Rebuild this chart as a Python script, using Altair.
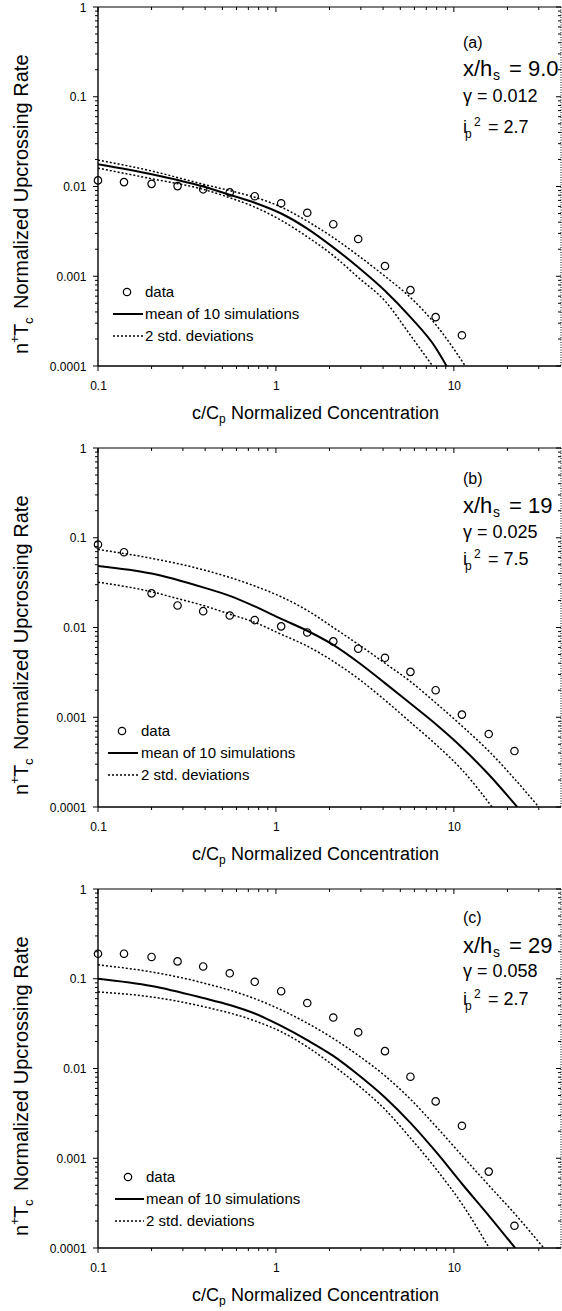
import altair as alt
import pandas as pd

FONT = "Liberation Sans"

# ---------------- axis tick values ----------------
X_MAJOR = [0.1, 1, 10]
X_MINOR = [0.2, 0.3, 0.4, 0.5, 0.6, 0.7, 0.8, 0.9, 2, 3, 4, 5, 6, 7, 8, 9, 20, 30]
Y_MAJOR = [1, 0.1, 0.01, 0.001, 0.0001]
Y_MINOR = [round(m * 10 ** k, 6) for k in (-4, -3, -2, -1) for m in range(2, 10)]
X_DOMAIN = [0.1, 40]
Y_DOMAIN = [0.0001, 1]

# ---------------- measured data (circles) ----------------
DATA_X = [0.1, 0.14, 0.2, 0.28, 0.39, 0.55, 0.76, 1.07, 1.5, 2.1, 2.9, 4.1, 5.7, 7.9, 11.1, 15.7, 21.9]
A_DATA_Y = [0.0117, 0.0112, 0.0107, 0.0101, 0.0093, 0.0086, 0.0078, 0.0065, 0.0051, 0.0038,
            0.0026, 0.0013, 0.0007, 0.00035, 0.00022]
B_DATA_Y = [0.084, 0.069, 0.024, 0.0176, 0.0152, 0.0136, 0.0121, 0.0103, 0.0088, 0.0070,
            0.0058, 0.0046, 0.0032, 0.0020, 0.00107, 0.00065, 0.00042]
C_DATA_Y = [0.19, 0.19, 0.175, 0.156, 0.137, 0.115, 0.0925, 0.0726, 0.0536, 0.037,
            0.0253, 0.0156, 0.0081, 0.0043, 0.0023, 0.00071, 0.000177]

# ---------------- simulation curves ----------------
A_MEAN_X = [0.1, 0.2, 0.39, 0.55, 0.76, 1.07, 1.5, 2.1, 2.9, 4.1, 5.7, 7.9, 9.1]
A_MEAN_Y = [0.0177, 0.0137, 0.0100, 0.0081, 0.0066, 0.0050, 0.0034, 0.0021, 0.00126, 0.00069, 0.00035, 0.00016, 0.0001]
A_UP_X = [0.1, 0.2, 0.39, 0.55, 0.76, 1.07, 1.5, 2.1, 2.9, 4.1, 5.7, 7.9, 11.6]
A_UP_Y = [0.0197, 0.0149, 0.0106, 0.0090, 0.0076, 0.0059, 0.0041, 0.0027, 0.0017, 0.0010, 0.00058, 0.00029, 0.0001]
A_LO_X = [0.1, 0.2, 0.39, 0.55, 0.76, 1.07, 1.5, 2.1, 2.9, 4.1, 5.7, 7.6]
A_LO_Y = [0.0160, 0.0122, 0.0093, 0.0075, 0.0059, 0.0042, 0.00275, 0.0017, 0.00097, 0.00053, 0.00022, 0.0001]

B_MEAN_X = [0.1, 0.2, 0.39, 0.55, 0.76, 1.07, 1.5, 2.1, 2.9, 4.1, 5.7, 7.9, 11.1, 15.7, 22.7]
B_MEAN_Y = [0.0486, 0.040, 0.028, 0.0225, 0.0172, 0.0125, 0.0092, 0.0064, 0.0041, 0.0024, 0.00142, 0.00084, 0.00046, 0.00023, 0.0001]
B_UP_X = [0.1, 0.2, 0.39, 0.76, 1.07, 1.5, 2.1, 2.9, 4.1, 5.7, 7.9, 11.1, 15.7, 30]
B_UP_Y = [0.074, 0.059, 0.044, 0.029, 0.022, 0.0155, 0.0100, 0.0065, 0.0040, 0.0025, 0.00145, 0.00080, 0.00042, 0.0001]
B_LO_X = [0.1, 0.2, 0.28, 0.39, 0.55, 0.76, 1.07, 1.5, 2.1, 2.9, 4.1, 5.7, 7.9, 11.1, 16.4]
B_LO_Y = [0.032, 0.025, 0.021, 0.0176, 0.0141, 0.0114, 0.0084, 0.0062, 0.0042, 0.0027, 0.00155, 0.00088, 0.0005, 0.00026, 0.0001]

C_MEAN_X = [0.1, 0.2, 0.39, 0.55, 0.76, 1.07, 1.5, 2.1, 2.9, 4.1, 5.7, 7.9, 11.1, 15.7, 22.1]
C_MEAN_Y = [0.1, 0.083, 0.061, 0.051, 0.041, 0.0298, 0.0207, 0.0138, 0.0085, 0.00475, 0.00248, 0.00119, 0.00052, 0.00023, 0.0001]
C_UP_X = [0.1, 0.2, 0.39, 0.76, 1.07, 1.5, 2.1, 2.9, 4.1, 5.7, 7.9, 11.1, 15.7, 22, 32]
C_UP_Y = [0.143, 0.119, 0.090, 0.060, 0.045, 0.032, 0.0216, 0.014, 0.0083, 0.00455, 0.00228, 0.00107, 0.0005, 0.00024, 0.0001]
C_LO_X = [0.1, 0.2, 0.39, 0.76, 1.07, 1.5, 2.1, 2.9, 4.1, 5.7, 7.9, 11.1, 15.8]
C_LO_Y = [0.0713, 0.0627, 0.049, 0.034, 0.0257, 0.0174, 0.0108, 0.0065, 0.0035, 0.00168, 0.00077, 0.00031, 0.0001]

# ---------------- texts ----------------
PANEL_TAGS = ["(a)", "(b)", "(c)"]
XH_VALUES = ["9.0", "19", "29"]
GAMMAS = ["0.012", "0.025", "0.058"]
IP2 = ["2.7", "7.5", "2.7"]
LEGEND_TEXT = ["data", "mean of 10 simulations", "2 std. deviations"]

# ---------------- layout constants ----------------
W, H = 463, 359
ANN_X = 365
ANN_Y = [(36, 62, 90, 121), (31, 58, 85, 112), (29, 57, 83, 111)]
LEG = [  # circle x, text x, line x1, line x2, dy data, dy mean, dy std (above bottom)
    (29, 47, 15, 45, 74, 52, 30),
    (24, 43, 10, 40, 76, 54, 32),
    (30, 48, 17, 46, 71, 49, 27),
]

one = pd.DataFrame({"k": [0]})

xs = alt.Scale(type="log", domain=X_DOMAIN, nice=False)
ys = alt.Scale(type="log", domain=Y_DOMAIN, nice=False)
xaxis = alt.Axis(values=X_MAJOR, format="~g", title=None)
yaxis = alt.Axis(values=Y_MAJOR, format="~g", title=None)
XENC = alt.X("x:Q", scale=xs, axis=xaxis)
YENC = alt.Y("y:Q", scale=ys, axis=yaxis)


def txt(s, x, y, size, **kw):
    return alt.Chart(one).mark_text(
        text=s, font=FONT, fontSize=size, color="black", align="left", baseline="middle", **kw
    ).encode(x=alt.value(x), y=alt.value(y))


def hrule(x1, x2, y, **kw):
    return alt.Chart(one).mark_rule(color="black", **kw).encode(
        x=alt.value(x1), x2=alt.value(x2), y=alt.value(y))


def vrule(x, y1, y2, **kw):
    return alt.Chart(one).mark_rule(color="black", **kw).encode(
        x=alt.value(x), y=alt.value(y1), y2=alt.value(y2))


def curve(xv, yv, **kw):
    return alt.Chart(pd.DataFrame({"x": xv, "y": yv})).mark_line(
        color="black", clip=True, interpolate="monotone", **kw).encode(x=XENC, y=YENC)


def panel(i, data_y, mean, up, lo, anchor=False):
    layers = []
    if anchor:
        layers.append(alt.Chart(one).mark_rule(strokeOpacity=0, strokeWidth=1).encode(
            x=alt.value(-97.5), x2=alt.value(-96.5), y=alt.value(-6.5)))
    # frame
    layers.append(hrule(0, W, 0, strokeWidth=1.2))
    layers.append(hrule(0, W, H, strokeWidth=1.4))
    layers.append(vrule(0, 0, H, strokeWidth=1.4))
    layers.append(vrule(W, 0, H, strokeWidth=1, strokeDash=[1, 1.5]))
    # ticks
    xmaj = alt.Chart(pd.DataFrame({"x": X_MAJOR}))
    xmin = alt.Chart(pd.DataFrame({"x": X_MINOR}))
    ymaj = alt.Chart(pd.DataFrame({"y": Y_MAJOR}))
    ymin = alt.Chart(pd.DataFrame({"y": Y_MINOR}))
    layers.append(xmaj.mark_rule(color="black").encode(x=XENC, y=alt.value(H), y2=alt.value(H + 5)))
    layers.append(xmin.mark_rule(color="black").encode(x=XENC, y=alt.value(H), y2=alt.value(H + 3)))
    layers.append(xmaj.mark_rule(color="black").encode(x=XENC, y=alt.value(0), y2=alt.value(5)))
    layers.append(xmin.mark_rule(color="black").encode(x=XENC, y=alt.value(0), y2=alt.value(3)))
    layers.append(ymaj.mark_rule(color="black").encode(y=YENC, x=alt.value(0), x2=alt.value(-5)))
    layers.append(ymin.mark_rule(color="black").encode(y=YENC, x=alt.value(0), x2=alt.value(-3)))
    layers.append(ymaj.mark_rule(color="black").encode(y=YENC, x=alt.value(W), x2=alt.value(W - 5)))
    layers.append(ymin.mark_rule(color="black").encode(y=YENC, x=alt.value(W), x2=alt.value(W - 3)))
    # curves
    layers.append(curve(*lo, strokeWidth=1.5, strokeDash=[2, 2]))
    layers.append(curve(*up, strokeWidth=1.5, strokeDash=[2, 2]))
    layers.append(curve(*mean, strokeWidth=2))
    # data circles
    layers.append(alt.Chart(pd.DataFrame({"x": DATA_X[:len(data_y)], "y": data_y})).mark_point(
        shape="circle", filled=False, size=55, color="black", strokeWidth=1.2, opacity=1
    ).encode(x=XENC, y=YENC))
    # annotations
    y0, y1, y2, y3 = ANN_Y[i]
    layers.append(txt(PANEL_TAGS[i], ANN_X, y0, 16))
    layers.append(txt("x/h", ANN_X, y1, 22))
    layers.append(txt("s", ANN_X + 30, y1 + 7, 14))
    layers.append(txt("= " + XH_VALUES[i], ANN_X + 46, y1, 22))
    layers.append(txt("\u03b3 = " + GAMMAS[i], ANN_X, y2, 18))
    layers.append(txt("i", ANN_X, y3, 18))
    layers.append(txt("p", ANN_X + 2, y3 + 6, 12))
    layers.append(txt("2", ANN_X + 11, y3 - 6, 12))
    layers.append(txt("= " + IP2[i], ANN_X + 25, y3, 18))
    # legend
    cx, tx, l1, l2, dd, dm, ds = LEG[i]
    layers.append(alt.Chart(one).mark_point(shape="circle", filled=False, size=55, color="black",
                                            strokeWidth=1.2, opacity=1).encode(
        x=alt.value(cx), y=alt.value(H - dd)))
    layers.append(txt(LEGEND_TEXT[0], tx, H - dd, 15))
    layers.append(hrule(l1, l2, H - dm, strokeWidth=2))
    layers.append(txt(LEGEND_TEXT[1], tx, H - dm, 15))
    layers.append(hrule(l1, l2, H - ds, strokeWidth=1.5, strokeDash=[2, 2]))
    layers.append(txt(LEGEND_TEXT[2], tx, H - ds, 15))
    # x title: c/C_p Normalized Concentration
    layers.append(txt("c/C", 94, H + 48, 18))
    layers.append(txt("p", 121, H + 53, 12))
    layers.append(txt("Normalized Concentration", 133, H + 48, 18))
    # y title: n+T_c Normalized Upcrossing Rate (rotated)
    yb = H - 12
    layers.append(txt("n", -76, yb, 20, angle=270))
    layers.append(txt("+", -83, yb - 11, 13, angle=270))
    layers.append(txt("T", -76, yb - 18, 20, angle=270))
    layers.append(txt("c", -69, yb - 30, 13, angle=270))
    layers.append(txt("Normalized Upcrossing Rate", -76, yb - 45, 20, angle=270))
    return alt.layer(*layers).properties(width=W, height=H)


pa = panel(0, A_DATA_Y, (A_MEAN_X, A_MEAN_Y), (A_UP_X, A_UP_Y), (A_LO_X, A_LO_Y), anchor=True)
pb = panel(1, B_DATA_Y, (B_MEAN_X, B_MEAN_Y), (B_UP_X, B_UP_Y), (B_LO_X, B_LO_Y))
pc = panel(2, C_DATA_Y, (C_MEAN_X, C_MEAN_Y), (C_UP_X, C_UP_Y), (C_LO_X, C_LO_Y))

chart = alt.vconcat(pa, pb, pc, spacing=82, bounds="flush").properties(
    padding=0, background="white"
).configure_view(stroke=None).configure_axis(
    labelFont=FONT, labelFontSize=12, labelColor="black", domain=False, ticks=False,
    tickSize=0, grid=False, labelFlush=False, labelOverlap=False
).configure_axisX(labelPadding=14).configure_axisY(labelPadding=12)

chart.save("out.html", embed_options={"renderer": "svg", "actions": False})
